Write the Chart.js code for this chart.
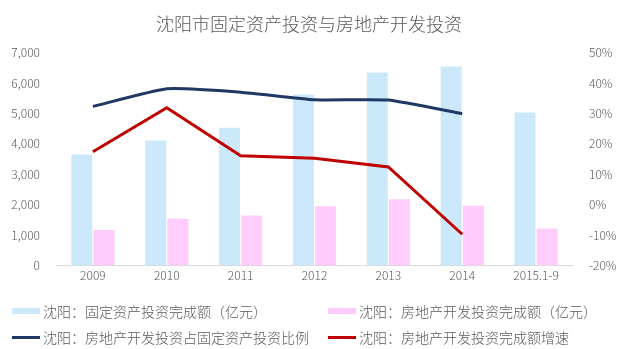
<!DOCTYPE html>
<html lang="zh-CN">
<head>
<meta charset="UTF-8">
<title>沈阳市固定资产投资与房地产开发投资</title>
<script src="https://cdn.jsdelivr.net/npm/chart.js"></script>
<style>
	html, body { margin: 0; padding: 0; background: #fff; }
	#wrap { position: relative; width: 618px; height: 349px; }
	#legend { position: absolute; left: 0; top: 0; width: 618px; height: 349px; pointer-events: none;
		font-family: "Noto Sans CJK SC", sans-serif; font-weight: 300; font-size: 14px; color: #595959; }
	.item { position: absolute; height: 20px; line-height: 20px; white-space: nowrap; }
	.sw { position: absolute; left: 0; width: 28px; }
	.item span.text { position: absolute; left: 31px; top: 0; }
</style>
</head>
<body>
<div id="wrap">
	<canvas id="chart"></canvas>
	<div id="legend"></div>
</div>
<script>
// data
const categories = ['2009', '2010', '2011', '2012', '2013', '2014', '2015.1-9'];
const fixedInvest = [3650, 4110, 4530, 5620, 6350, 6540, 5030];      // 亿元
const realEstateInvest = [1170, 1540, 1650, 1950, 2180, 1970, 1220]; // 亿元
const shareOfFixed = [0.323, 0.381, 0.370, 0.345, 0.344, 0.299, null];
const realEstateGrowth = [0.174, 0.319, 0.161, 0.153, 0.124, -0.097, null];

const names = [
	'沈阳：固定资产投资完成额（亿元）',
	'沈阳：房地产开发投资完成额（亿元）',
	'沈阳：房地产开发投资占固定资产投资比例',
	'沈阳：房地产开发投资完成额增速'
];
const colors = ['#cce9fb', '#ffccfb', '#1f3864', '#c00000'];

const font = '"Noto Sans CJK SC", "Noto Sans", sans-serif';
const grey = '#595959';

const ctx = document.getElementById('chart').getContext('2d');
const chart = new Chart(ctx, {
	type: 'bar',
	data: {
		labels: categories,
		datasets: [
			{
				type: 'line', label: names[2], data: shareOfFixed, yAxisID: 'y1',
				borderColor: colors[2], borderWidth: 3, pointRadius: 0, tension: 0.15,
				order: 0
			},
			{
				type: 'line', label: names[3], data: realEstateGrowth, yAxisID: 'y1',
				borderColor: colors[3], borderWidth: 3, pointRadius: 0, tension: 0,
				order: 0
			},
			{
				label: names[0], data: fixedInvest, yAxisID: 'y',
				backgroundColor: colors[0], categoryPercentage: 0.6, barPercentage: 0.95,
				order: 1
			},
			{
				label: names[1], data: realEstateInvest, yAxisID: 'y',
				backgroundColor: colors[1], categoryPercentage: 0.6, barPercentage: 0.95,
				order: 1
			}
		]
	},
	options: {
		responsive: true,
		maintainAspectRatio: false,
		animation: false,
		layout: { padding: { left: 0, right: 0, top: 0, bottom: 63 } },
		plugins: {
			legend: { display: false },
			tooltip: { enabled: false },
			title: {
				display: true,
				text: '沈阳市固定资产投资与房地产开发投资',
				color: grey,
				font: { family: font, size: 18, weight: 300 },
				padding: { top: 13, bottom: 18 }
			}
		},
		scales: {
			x: {
				grid: { display: false, drawTicks: false },
				border: { color: '#d9d9d9' },
				ticks: { color: grey, font: { family: font, size: 12, weight: 300 }, padding: 3 }
			},
			y: {
				position: 'left',
				min: 0, max: 7000,
				grid: { display: false },
				border: { display: false },
				ticks: {
					stepSize: 1000, color: grey, font: { family: font, size: 12, weight: 300 }, padding: 8,
					callback: v => v.toLocaleString('en-US')
				},
				afterFit: s => { s.width = 56; }
			},
			y1: {
				position: 'right',
				min: -0.2, max: 0.5,
				grid: { display: false },
				border: { display: false },
				ticks: {
					stepSize: 0.1, color: grey, font: { family: font, size: 12, weight: 300 }, padding: 8,
					callback: v => Math.round(v * 100) + '%'
				},
				afterFit: s => { s.width = 45; }
			}
		}
	}
});

// legend in two columns, as in the original
const legendPos = [
	{ x: 12, y: 301 }, { x: 328, y: 301 },
	{ x: 12, y: 327 }, { x: 328, y: 327 }
];
const legend = document.getElementById('legend');
names.forEach((n, i) => {
	const it = document.createElement('div');
	it.className = 'item';
	it.style.left = legendPos[i].x + 'px';
	it.style.top = legendPos[i].y + 'px';
	const sw = document.createElement('div');
	sw.className = 'sw';
	sw.style.background = colors[i];
	if (i < 2) { sw.style.top = '7px'; sw.style.height = '6px'; }
	else { sw.style.top = '9px'; sw.style.height = '3px'; }
	const t = document.createElement('span');
	t.className = 'text';
	t.textContent = n;
	it.appendChild(sw);
	it.appendChild(t);
	legend.appendChild(it);
});
</script>
</body>
</html>
